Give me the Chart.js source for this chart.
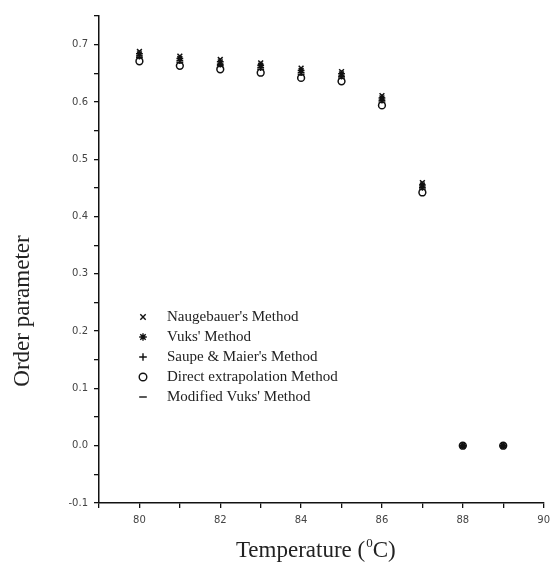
<!DOCTYPE html>
<html>
<head>
<meta charset="utf-8">
<script src="https://cdn.jsdelivr.net/npm/chart.js@4.4.0/dist/chart.umd.min.js"></script>
<style>
  html, body { margin: 0; padding: 0; background: #fff; }
  #wrap { width: 556px; height: 567px; }
</style>
</head>
<body>
<div id="wrap"><canvas id="order-chart"></canvas></div>
<script>
// Temperature (deg C) and order parameter
const temperatures = [80, 81, 82, 83, 84, 85, 86, 87, 88, 89];
const neugebauer   = [0.688, 0.680, 0.674, 0.668, 0.659, 0.653, 0.611, 0.459, 0, 0];
const vuks         = [0.684, 0.676, 0.670, 0.664, 0.655, 0.649, 0.607, 0.455, 0, 0];
const saupeMaier   = [0.680, 0.672, 0.666, 0.660, 0.651, 0.645, 0.603, 0.451, 0, 0];
const directExtrap = [0.671, 0.663, 0.657, 0.651, 0.642, 0.636, 0.594, 0.442, 0, 0];
const modifiedVuks = [0.677, 0.669, 0.663, 0.657, 0.648, 0.642, 0.600, 0.448, 0, 0];

const seriesLabels = [
  "Naugebauer's Method",
  "Vuks' Method",
  "Saupe & Maier's Method",
  "Direct extrapolation Method",
  "Modified Vuks' Method"
];
const seriesValues = [neugebauer, vuks, saupeMaier, directExtrap, modifiedVuks];
const seriesStyles = ['crossRot', 'star', 'cross', 'circle', 'line'];

const xTicks = { min: 79, max: 90, step: 1 };
const yTicks = { min: -0.1, max: 0.75, step: 0.05 };

const serif = '"Liberation Serif", serif';

const datasets = seriesValues.map((vals, i) => ({
  label: seriesLabels[i],
  data: temperatures.map((t, j) => ({ x: t, y: vals[j] })),
  pointStyle: seriesStyles[i],
  pointRadius: 3.4,
  pointBorderWidth: 1.5,
  borderColor: '#111',
  backgroundColor: 'rgba(0,0,0,0)',
  showLine: false
}));

// legend drawn inside the plot area, like the original figure
const insideLegend = {
  id: 'insideLegend',
  afterDatasetsDraw(chart) {
    const { ctx, chartArea } = chart;
    const x0 = chartArea.left + 44;
    const y0 = chartArea.top + 301;
    ctx.save();
    chart.data.datasets.forEach((ds, i) => {
      const y = y0 + i * 20;
      ctx.strokeStyle = '#111';
      ctx.fillStyle = 'rgba(0,0,0,0)';
      ctx.lineWidth = 1.4;
      Chart.helpers.drawPoint(ctx, { pointStyle: ds.pointStyle, radius: 3.8, borderWidth: 1.4, rotation: 0 }, x0, y);
      ctx.fillStyle = '#222';
      ctx.font = '15px ' + serif;
      ctx.textBaseline = 'middle';
      ctx.textAlign = 'left';
      ctx.fillText(ds.label, x0 + 24, y);
    });
    ctx.restore();
  }
};

// axis titles: rotated y title sits a bit below the axis middle, x title has a small raised 0
const axisTitles = {
  id: 'axisTitles',
  afterDraw(chart) {
    const { ctx, chartArea } = chart;
    ctx.save();
    ctx.fillStyle = '#222';
    ctx.textBaseline = 'alphabetic';

    // y title
    ctx.save();
    ctx.translate(29, 311);
    ctx.rotate(-Math.PI / 2);
    ctx.font = '23px ' + serif;
    ctx.textAlign = 'center';
    ctx.fillText('Order parameter', 0, 0);
    ctx.restore();

    // x title
    const big = '23px ' + serif, small = '13px ' + serif;
    const a = 'Temperature (', sup = '0', b = 'C)';
    ctx.font = big;
    const wa = ctx.measureText(a).width, wb = ctx.measureText(b).width;
    ctx.font = small;
    const ws = ctx.measureText(sup).width;
    const cx = (chartArea.left + chartArea.right) / 2 - 6;
    let x = cx - (wa + ws + wb) / 2;
    const base = 557;
    ctx.textAlign = 'left';
    ctx.font = big;
    ctx.fillText(a, x, base);
    x += wa;
    ctx.font = small;
    ctx.fillText(sup, x + 1, base - 10);
    x += ws + 1;
    ctx.font = big;
    ctx.fillText(b, x, base);
    ctx.restore();
  }
};

const tickFont = { family: '"DejaVu Sans", sans-serif', size: 10 };

new Chart(document.getElementById('order-chart'), {
  type: 'scatter',
  data: { datasets },
  options: {
    responsive: true,
    maintainAspectRatio: false,
    animation: false,
    layout: { padding: { left: 0, right: 7, top: 16, bottom: 0 } },
    plugins: { legend: { display: false }, tooltip: { enabled: false } },
    scales: {
      x: {
        type: 'linear',
        min: xTicks.min,
        max: xTicks.max,
        border: { display: true, color: '#111', width: 1.5 },
        grid: { drawOnChartArea: false, drawTicks: true, tickLength: 5, color: '#111', lineWidth: 1.3 },
        ticks: {
          stepSize: xTicks.step,
          autoSkip: false,
          maxRotation: 0,
          padding: 6,
          color: '#444',
          font: tickFont,
          callback: v => (v % 2 === 0 ? String(v) : '')
        },
        afterFit: s => { s.height = 64; }
      },
      y: {
        type: 'linear',
        min: yTicks.min,
        max: yTicks.max,
        border: { display: true, color: '#111', width: 1.5 },
        grid: { drawOnChartArea: false, drawTicks: true, tickLength: 5, color: '#111', lineWidth: 1.3 },
        ticks: {
          stepSize: yTicks.step,
          autoSkip: false,
          padding: 6,
          color: '#444',
          font: tickFont,
          callback: v => {
            const r = Math.round(v * 100);
            if (r % 10 !== 0) return '';
            return (r / 100).toFixed(1);
          }
        },
        afterFit: s => { s.width = 99; }
      }
    }
  },
  plugins: [insideLegend, axisTitles]
});
</script>
</body>
</html>
